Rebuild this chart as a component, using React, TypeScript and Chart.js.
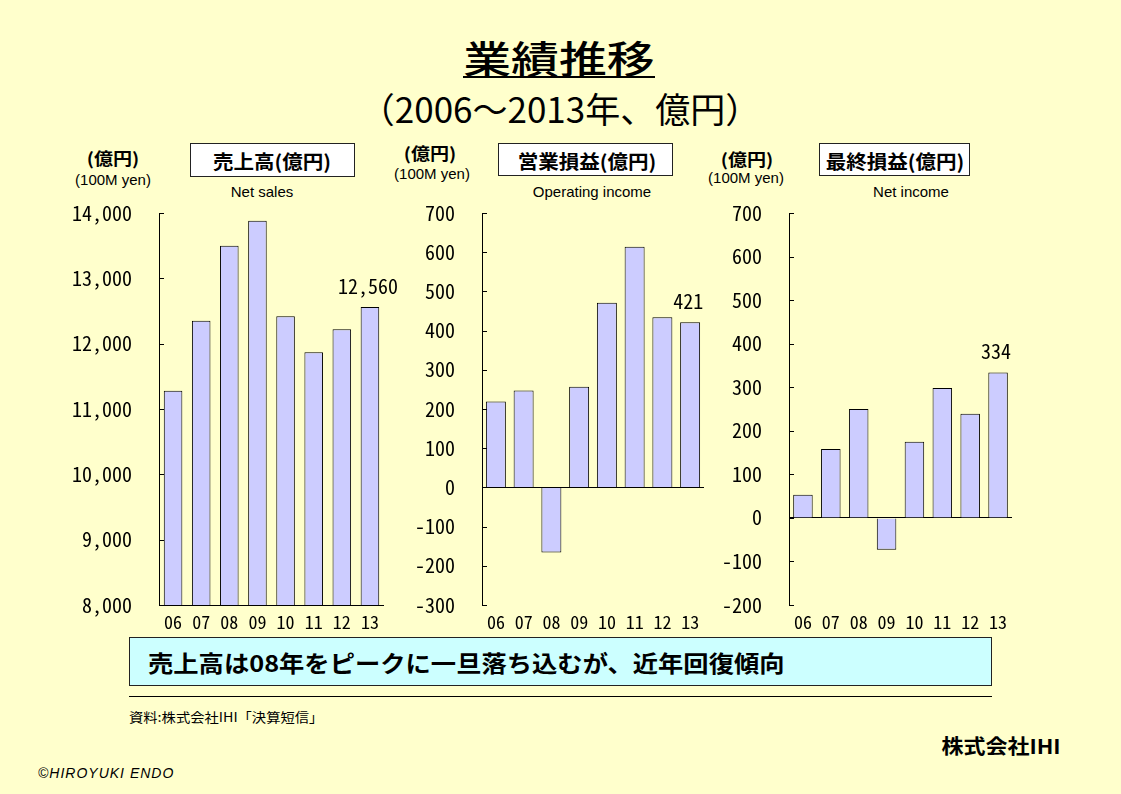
import React, { useEffect, useRef } from "react";
import { Chart, registerables } from "chart.js";

Chart.register(...registerables);

// ---- data ----
const years = ["06", "07", "08", "09", "10", "11", "12", "13"];
const netSales = [11280, 12350, 13500, 13880, 12420, 11870, 12220, 12560];
const operatingIncome = [219, 247, -166, 257, 471, 614, 434, 421];
const netIncome = [53, 158, 250, -73, 175, 298, 239, 334];

const salesAxis = { min: 8000, max: 14000, step: 1000, base: 8000 };
const opAxis = { min: -300, max: 700, step: 100, base: 0 };
const niAxis = { min: -200, max: 700, step: 100, base: 0 };

const JP = '"Noto Sans CJK JP", sans-serif';
const SANS = '"Liberation Sans", Arial, sans-serif';
const MONO = '"Noto Sans Mono CJK JP", "DejaVu Sans Mono", monospace';

const fmt = (v: number) => {
  const s = Math.abs(v).toLocaleString("en-US");
  return v < 0 ? "-" + s : s;
};

type ChartProps = {
  values: number[];
  axis: { min: number; max: number; step: number; base: number };
  left: number;
  top: number;
  width: number;
  height: number;
  yWidth: number;
  padRight: number;
  barPct: number;
};

function BarChart({ values, axis, left, top, width, height, yWidth, padRight, barPct }: ChartProps) {
  const ref = useRef<HTMLCanvasElement | null>(null);
  useEffect(() => {
    if (!ref.current) return;
    const inwardTicks = {
      id: "inwardTicks",
      afterDraw(chart: any) {
        const y = chart.scales.y;
        const ctx = chart.ctx;
        const x0 = chart.chartArea.left;
        ctx.save();
        ctx.strokeStyle = "#000";
        ctx.lineWidth = 1;
        ctx.beginPath();
        y.ticks.forEach((t: any) => {
          const py = Math.round(y.getPixelForValue(t.value)) + 0.5;
          ctx.moveTo(x0, py);
          ctx.lineTo(x0 + 5, py);
        });
        ctx.stroke();
        ctx.restore();
      },
    };
    const lastLabel = {
      id: "lastLabel",
      afterDatasetsDraw(chart: any) {
        const meta = chart.getDatasetMeta(0);
        const i = values.length - 1;
        const el = meta.data[i];
        const ctx = chart.ctx;
        ctx.save();
        ctx.fillStyle = "#000";
        ctx.font = `20px ${MONO}`;
        ctx.textAlign = "center";
        ctx.textBaseline = "bottom";
        ctx.fillText(fmt(values[i]), el.x - 2, el.y - 11);
        ctx.restore();
      },
    };
    const chart = new Chart(ref.current, {
      type: "bar",
      data: {
        labels: years,
        datasets: [
          {
            data: values,
            backgroundColor: "#CCCCFF",
            borderColor: "#000",
            borderWidth: 1,
            barPercentage: barPct,
            categoryPercentage: 1,
          },
        ],
      },
      options: {
        animation: false,
        responsive: false,
        devicePixelRatio: 1,
        layout: { padding: { top: 13, right: padRight, left: 0, bottom: 0 } },
        plugins: { legend: { display: false }, tooltip: { enabled: false } },
        scales: {
          x: {
            grid: { display: false, drawTicks: false },
            border: { display: false },
            ticks: {
              color: "#000",
              font: { family: MONO, size: 18 },
              padding: 6,
              maxRotation: 0,
              autoSkip: false,
            },
            afterFit: (s: any) => {
              s.height = 35;
            },
          },
          y: {
            min: axis.min,
            max: axis.max,
            ticks: {
              stepSize: axis.step,
              color: "#000",
              font: { family: MONO, size: 20 },
              padding: 27,
              callback: (v: any) => fmt(Number(v)),
            },
            grid: {
              drawTicks: false,
              lineWidth: 1,
              color: (c: any) =>
                c.tick && c.tick.value === axis.base ? "#000" : "rgba(0,0,0,0)",
            },
            border: { display: true, color: "#000", width: 1 },
            afterFit: (s: any) => {
              s.width = yWidth;
              s.paddingTop = 0;
              s.paddingBottom = 0;
            },
          },
        },
      },
      plugins: [inwardTicks, lastLabel],
    } as any);
    return () => chart.destroy();
  }, []);
  return (
    <canvas
      ref={ref}
      width={width}
      height={height}
      style={{ position: "absolute", left, top, width, height }}
    />
  );
}

type TProps = {
  x: number;
  y: number;
  size: number;
  weight?: number;
  family?: string;
  sx?: number;
  align?: "center" | "left";
  italic?: boolean;
  ls?: number;
  children: React.ReactNode;
};

function T({ x, y, size, weight = 400, family = JP, sx = 1, align = "center", italic, ls = 0, children }: TProps) {
  const transform =
    align === "center"
      ? `translate(-50%, -50%) scaleX(${sx})`
      : `translate(0, -50%) scaleX(${sx})`;
  return (
    <div
      style={{
        position: "absolute",
        left: x,
        top: y,
        transform,
        transformOrigin: align === "center" ? "50% 50%" : "0 50%",
        fontFamily: family,
        fontSize: size,
        fontWeight: weight,
        fontStyle: italic ? "italic" : "normal",
        letterSpacing: ls,
        lineHeight: 1,
        whiteSpace: "nowrap",
        color: "#000",
      }}
    >
      {children}
    </div>
  );
}

function Box({ left, top, width, height, bg }: { left: number; top: number; width: number; height: number; bg: string }) {
  return (
    <div
      style={{
        position: "absolute",
        left,
        top,
        width,
        height,
        background: bg,
        border: "1px solid #222",
        boxSizing: "border-box",
      }}
    />
  );
}

export default function App() {
  return (
    <div
      style={{
        position: "fixed",
        left: 0,
        top: 0,
        width: 1121,
        height: 794,
        background: "#FFFFCC",
        overflow: "hidden",
      }}
    >
      {/* Title */}
      <T x={559} y={57} size={38} sx={1.26} weight={500}>業績推移</T>
      <div style={{ position: "absolute", left: 463, top: 76, width: 192, height: 2, background: "#000" }} />
      <T x={560} y={107} size={35}>（2006～2013年、億円）</T>

      {/* Chart 1 headers */}
      <T x={113} y={157} size={17} weight={700} sx={1.12}>(億円)</T>
      <T x={113} y={179} size={15} family={SANS}>(100M yen)</T>
      <Box left={190} top={143} width={165} height={34} bg="#FFFFFF" />
      <T x={272} y={160} size={19} weight={700} sx={1.08}>売上高(億円)</T>
      <T x={262} y={191} size={15} family={SANS}>Net sales</T>

      {/* Chart 2 headers */}
      <T x={430} y={152} size={17} weight={700} sx={1.12}>(億円)</T>
      <T x={432} y={173} size={15} family={SANS}>(100M yen)</T>
      <Box left={498} top={143} width={175} height={33} bg="#FFFFFF" />
      <T x={587} y={160} size={19} weight={700} sx={1.08}>営業損益(億円)</T>
      <T x={592} y={191} size={15} family={SANS}>Operating income</T>

      {/* Chart 3 headers */}
      <T x={747} y={158} size={17} weight={700} sx={1.12}>(億円)</T>
      <T x={746} y={177} size={15} family={SANS}>(100M yen)</T>
      <Box left={819} top={143} width={151} height={33} bg="#FFFFFF" />
      <T x={895} y={160} size={19} weight={700} sx={1.08}>最終損益(億円)</T>
      <T x={911} y={191} size={15} family={SANS}>Net income</T>

      <BarChart values={netSales} axis={salesAxis} left={50} top={200} width={362} height={440} yWidth={109} padRight={28} barPct={0.66} />
      <BarChart values={operatingIncome} axis={opAxis} left={400} top={200} width={320} height={440} yWidth={82} padRight={16} barPct={0.72} />
      <BarChart values={netIncome} axis={niAxis} left={715} top={200} width={310} height={440} yWidth={74} padRight={13} barPct={0.7} />

      {/* Bottom */}
      <Box left={129} top={637} width={863} height={49} bg="#CCFFFF" />
      <T x={148} y={662} size={23} weight={700} sx={1.1} align="left">売上高は08年をピークに一旦落ち込むが、近年回復傾向</T>
      <div style={{ position: "absolute", left: 129, top: 696, width: 863, height: 1, background: "#000" }} />
      <T x={129} y={716} size={13} sx={1.1} align="left">資料:株式会社IHI「決算短信」</T>
      <T x={1001} y={746} size={20} weight={700} sx={1.1}>株式会社IHI</T>
      <T x={38} y={773} size={14} family={SANS} italic ls={1} align="left">©HIROYUKI ENDO</T>
    </div>
  );
}
